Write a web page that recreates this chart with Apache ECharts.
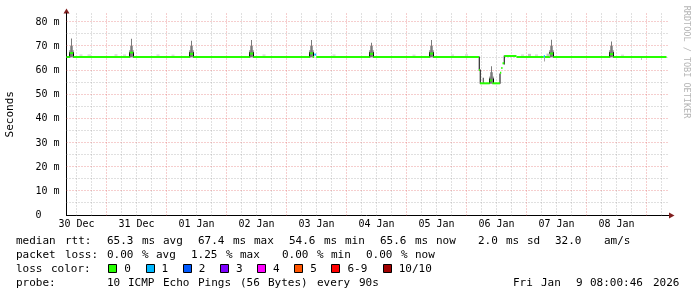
<!DOCTYPE html>
<html><head><meta charset="utf-8">
<script src="https://cdn.jsdelivr.net/npm/echarts@6/dist/echarts.min.js"></script>
<style>html,body{margin:0;padding:0;background:#fff}#c{width:697px;height:297px}</style>
</head><body><div id="c"></div><script>
// ---- data (x = hours since 30 Dec 00:00) ----
const startHour = 8, endHour = 248;
const yMax = 83.8;
const dayLabelHours = [12, 36, 60, 84, 108, 132, 156, 180, 204, 228];
const dayLabels = ['30 Dec','31 Dec','01 Jan','02 Jan','03 Jan','04 Jan','05 Jan','06 Jan','07 Jan','08 Jan'];
const yLabelValues = [0, 10, 20, 30, 40, 50, 60, 70, 80];

// median rtt (ms): segment start hours, value, loss class
const medianHours  = [8, 9.3, 10.7, 33.3, 34.7, 57.3, 58.7, 81.3, 82.7, 105.3, 106.5, 107.1, 107.9, 129.3, 130.7, 153.3, 154.7, 173.0, 173.4, 177.3, 178.3, 181.4, 181.9, 182.4, 183.1, 188.0, 198.9, 199.4, 201.3, 202.7, 225.3, 226.7, 248];
const medianValues = [65.6, 67.2, 65.6, 67.4, 65.6, 66.9, 65.6, 67.0, 65.6, 67.1, 65.6, 66.6, 65.6, 66.9, 65.6, 67.0, 65.6, 60.2, 54.7, 55.9, 54.7, 59.1, 61.0, 63.0, 66.0, 65.6, 65.9, 65.6, 67.0, 65.6, 66.8, 65.6, 65.6];
const medianLoss   = [0, 0, 0, 0, 0, 0, 0, 0, 0, 0, 0, 1, 0, 0, 0, 0, 0, 0, 0, 0, 0, 0, 0, 0, 0, 0, 1, 0, 0, 0, 0, 0, 0];

// daily smoke spikes
const spikeHours = [10, 34, 58, 82, 106, 130, 154, 178, 202, 226];
const spikeBase  = [65.6, 65.6, 65.6, 65.6, 65.6, 65.6, 65.6, 54.7, 65.6, 65.6];
const spikeTops  = [73.2, 73.1, 72.3, 72.6, 72.6, 71.5, 72.6, 61.8, 72.7, 72.0];

// other smoke
const smokeStart = [13.2, 16.4, 27.2, 30.6, 44.0, 50.0, 86.4, 114.4, 146.4, 161.8, 167.4, 189.8, 192.6, 195.4, 200.0, 229.8, 199.0, 237.8, 172.9, 173.3, 174.5, 181.2, 182.9];
const smokeEnd   = [14.4, 17.8, 28.4, 31.8, 45.2, 51.2, 87.6, 115.6, 147.6, 163.0, 168.6, 191.0, 193.8, 196.6, 201.4, 231.0, 199.4, 238.2, 173.3, 173.7, 174.9, 181.6, 183.3];
const smokeLow   = [65.6, 65.6, 65.6, 65.6, 65.6, 65.6, 65.6, 65.6, 65.6, 65.6, 65.6, 65.6, 65.6, 65.6, 65.6, 65.6, 63.7, 64.4, 60.0, 54.5, 54.5, 54.5, 62.5];
const smokeHigh  = [66.7, 66.7, 66.8, 66.7, 66.7, 66.6, 66.7, 66.7, 66.6, 66.7, 66.8, 66.7, 66.9, 66.7, 67.0, 66.6, 65.6, 65.6, 65.8, 60.4, 57.0, 58.8, 66.2];
const smokeShade = [0, 0, 0, 0, 0, 0, 0, 0, 0, 0, 0, 0, 1, 0, 1, 0, 2, 1, 5, 5, 4, 5, 5];

const lossLabels = ['0','1','2','3','4','5','6-9','10/10'];
const lossColors = ['#26ff00','#00b8ff','#0059ff','#7e00ff','#ff00ff','#ff5500','#ff0000','#a10000'];

const legendRows = [
  'median rtt:  65.3 ms avg  67.4 ms max  54.6 ms min  65.6 ms now   2.0 ms sd  32.0   am/s',
  'packet loss: 0.00 % avg  1.25 % max   0.00 % min  0.00 % now',
  'loss color:',
  'probe:       10 ICMP Echo Pings (56 Bytes) every 90s'
];
const dateText = 'Fri Jan  9 08:00:46 2026';
const watermark = 'RRDTOOL / TOBI OETIKER';

// ---- styles ----
const shadeColors = ['#dedede','#c2c2c2','#a6a6a6','#7a7a7a','#383838','#000000'];
const MONO = '"DejaVu Sans Mono", monospace';
const gridLeft = 66.5, gridTop = 13, gridW = 600, gridH = 202.5;

// build smoke items
const smokeData = [];
spikeHours.forEach((h, i) => {
  const b = spikeBase[i];
  smokeData.push([h - 1.0, h + 1.0, b - 0.2, b + 2.8, 2]);
  smokeData.push([h - 0.5, h + 0.5, b, b + 4.6, 3]);
  smokeData.push([h - 0.2, h + 0.2, b, spikeTops[i], 3]);
  smokeData.push([h - 0.95, h - 0.6, b - 0.2, b + 2.0, 5]);
  smokeData.push([h + 0.6, h + 0.95, b - 0.2, b + 2.0, 5]);
});
smokeStart.forEach((s, i) => smokeData.push([s, smokeEnd[i], smokeLow[i], smokeHigh[i], smokeShade[i]]));

const medianData = [];
for (let i = 0; i < medianHours.length - 1; i++) {
  medianData.push([medianHours[i], medianHours[i + 1], medianValues[i], medianLoss[i]]);
}

const vMinor = [], vMajor = [];
for (let h = 12; h < endHour; h += 6) { if (h % 24 === 0) vMajor.push([h, 0]); else vMinor.push([h, 0]); }
const hMinor = [5,15,25,35,45,55,65,75].map(v => [startHour, v]);
const hMajor = [10,20,30,40,50,60,70,80].map(v => [startHour, v]);

function gridSeries(data, vertical, color) {
  return {
    type: 'custom', data, silent: true, z: 1, clip: false,
    renderItem(params, api) {
      const cs = params.coordSys;
      if (vertical) {
        const x = Math.round(api.coord([api.value(0), 0])[0]) - 0.5;
        return { type: 'line', shape: { x1: x, y1: cs.y + cs.height, x2: x, y2: cs.y }, style: { stroke: color, lineWidth: 1, lineDash: [1, 2] } };
      }
      const y = Math.round(api.coord([startHour, api.value(1)])[1]) - 0.5;
      return { type: 'line', shape: { x1: cs.x, y1: y, x2: cs.x + cs.width + 2, y2: y }, style: { stroke: color, lineWidth: 1, lineDash: [1, 2] } };
    }
  };
}

// legend graphics
const graphics = [];
function placeTokens(str, col0, y) {
  const re = /\S+/g; let m;
  while ((m = re.exec(str))) {
    graphics.push({ type: 'text', x: 16 + (col0 + m.index) * 7, y, silent: true,
      style: { text: m[0], font: '11px ' + MONO, fill: '#000', verticalAlign: 'middle' } });
  }
}
const rowY = [241, 255, 269, 283];
legendRows.forEach((r, i) => placeTokens(r, 0, rowY[i]));
placeTokens(dateText, 71, rowY[3]);
let bx = 108.3;
lossLabels.forEach((lab, i) => {
  graphics.push({ type: 'rect', silent: true, shape: { x: Math.round(bx) + 0.5, y: 264.5, width: 8, height: 8 },
    style: { fill: lossColors[i], stroke: '#000', lineWidth: 1 } });
  graphics.push({ type: 'text', silent: true, x: bx + 16, y: rowY[2],
    style: { text: lab, font: '11px ' + MONO, fill: '#000', verticalAlign: 'middle' } });
  bx += 30.2 + 7 * lab.length;
});
graphics.push({ type: 'text', silent: true, x: 686.5, y: 62, rotation: -Math.PI / 2,
  style: { text: watermark, font: '8.5px ' + MONO, fill: '#b4b4b4', align: 'center', verticalAlign: 'middle' } });
// axis arrows
graphics.push({ type: 'line', silent: true, shape: { x1: 66.5, y1: 13, x2: 66.5, y2: 10 }, style: { stroke: '#000', lineWidth: 1 } });
graphics.push({ type: 'line', silent: true, shape: { x1: 666, y1: 215.5, x2: 670, y2: 215.5 }, style: { stroke: '#000', lineWidth: 1 } });
graphics.push({ type: 'polygon', silent: true, shape: { points: [[66.5, 8.5], [63.5, 13.5], [69.5, 13.5]] }, style: { fill: '#801f1f' } });
graphics.push({ type: 'polygon', silent: true, shape: { points: [[674.5, 215.5], [669, 212.5], [669, 218.5]] }, style: { fill: '#801f1f' } });

const chart = echarts.init(document.getElementById('c'), null, { renderer: 'canvas' });
chart.setOption({
  animation: false,
  backgroundColor: '#ffffff',
  grid: { left: gridLeft, top: gridTop, width: gridW, height: gridH, containLabel: false, outerBoundsMode: 'none' },
  xAxis: {
    type: 'value', min: startHour, max: endHour,
    axisLine: { show: true, lineStyle: { color: '#000', width: 1 } },
    axisTick: { show: false }, splitLine: { show: false },
    axisLabel: { customValues: dayLabelHours, margin: 4, color: '#000', fontFamily: MONO, fontSize: 10,
      formatter: v => dayLabels[dayLabelHours.indexOf(v)] || '' }
  },
  yAxis: {
    type: 'value', min: 0, max: yMax,
    name: 'Seconds', nameLocation: 'middle', nameGap: 51, nameRotate: 90,
    nameTextStyle: { color: '#000', fontFamily: MONO, fontSize: 11 },
    axisLine: { show: true, lineStyle: { color: '#000', width: 1 } },
    axisTick: { show: false }, splitLine: { show: false },
    axisLabel: { customValues: yLabelValues, align: 'left', margin: 31, color: '#000', fontFamily: MONO, fontSize: 10,
      formatter: v => v === 0 ? '0' : v + ' m' }
  },
  series: [
    gridSeries(vMinor, true, 'rgba(143,143,143,0.55)'),
    gridSeries(hMinor, false, 'rgba(143,143,143,0.55)'),
    gridSeries(vMajor, true, 'rgba(222,79,79,0.55)'),
    gridSeries(hMajor, false, 'rgba(222,79,79,0.55)'),
    {
      type: 'custom', data: smokeData, z: 3, silent: true, encode: { x: [0, 1], y: [2, 3] },
      renderItem(params, api) {
        const p0 = api.coord([api.value(0), api.value(3)]);
        const p1 = api.coord([api.value(1), api.value(2)]);
        return { type: 'rect', shape: { x: p0[0], y: p0[1], width: Math.max(1, p1[0] - p0[0]), height: Math.max(1, p1[1] - p0[1]) },
          style: { fill: shadeColors[api.value(4)] } };
      }
    },
    {
      type: 'custom', data: medianData, z: 4, silent: true, encode: { x: [0, 1], y: 2 },
      renderItem(params, api) {
        const p0 = api.coord([api.value(0), api.value(2)]);
        const p1 = api.coord([api.value(1), api.value(2)]);
        return { type: 'line', shape: { x1: p0[0], y1: p0[1], x2: p1[0], y2: p1[1] },
          style: { stroke: lossColors[api.value(3)], lineWidth: 2 } };
      }
    }
  ],
  graphic: graphics
});
</script></body></html>
